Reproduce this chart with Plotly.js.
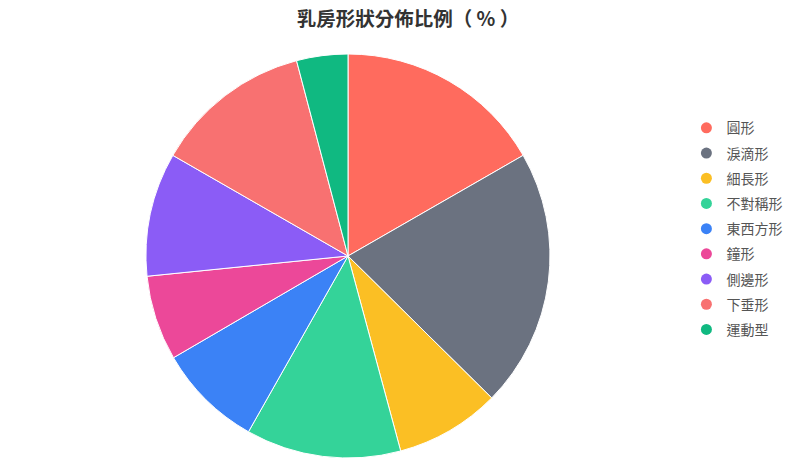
<!DOCTYPE html>
<html>
<head>
<meta charset="utf-8">
<script src="https://cdn.plot.ly/plotly-3.0.1.min.js"></script>
<style>
  html, body { margin: 0; padding: 0; background: #fff; }
  #chart { width: 800px; height: 460px; }
</style>
</head>
<body>
<div id="chart"></div>
<script>
'use strict';

// Shape names and share (%)
var shapes = ['圓形', '淚滴形', '細長形', '不對稱形', '東西方形', '鐘形', '側邊形', '下垂形', '運動型'];
var shares = [16.7, 20.7, 8.4, 12.4, 8.4, 6.8, 9.9, 12.6, 4.1];
var colors = ['#FF6B5E', '#6B7280', '#FBBF24', '#34D399', '#3B82F6', '#EC4899', '#8B5CF6', '#F87171', '#10B981'];

function draw(node) {

    var traces = [{
        type: 'pie',
        labels: shapes,
        values: shares,
        sort: false,
        direction: 'clockwise',
        rotation: 0,
        textinfo: 'none',
        hoverinfo: 'label+percent',
        showlegend: false,
        marker: {
            colors: colors,
            line: { color: '#ffffff', width: 1 }
        },
        domain: { x: [0.1825, 0.6875], y: [0.004, 0.883] }
    }];

    // Legend entries drawn as round markers
    shapes.forEach(function (name, i) {
        traces.push({
            type: 'scatter',
            mode: 'markers',
            x: [null],
            y: [null],
            name: name,
            legendgroup: 'g' + i,
            marker: { symbol: 'circle', size: 11, color: colors[i] },
            hoverinfo: 'none'
        });
    });

    Plotly.newPlot(node, traces, {
        width: 800,
        height: 460,
        margin: { t: 0, b: 0, l: 0, r: 0 },
        paper_bgcolor: '#ffffff',
        plot_bgcolor: '#ffffff',
        font: { family: '"Noto Sans CJK TC", "Noto Sans", sans-serif', color: '#555555' },
        title: {
            text: '<b>乳房形狀分佈比例（ % ）</b>',
            x: 0.51,
            xanchor: 'center',
            y: 0.958,
            yanchor: 'middle',
            font: { size: 19.5, color: '#333333' }
        },
        xaxis: { visible: false },
        yaxis: { visible: false },
        legend: {
            x: 0.858,
            xanchor: 'left',
            y: 0.756,
            yanchor: 'top',
            traceorder: 'grouped',
            tracegroupgap: 4,
            font: { size: 14, color: '#555555' },
            bgcolor: 'rgba(0,0,0,0)'
        },
        showlegend: true
    }, { displayModeBar: false, staticPlot: true });
}

draw(document.getElementById('chart'));
</script>
</body>
</html>
